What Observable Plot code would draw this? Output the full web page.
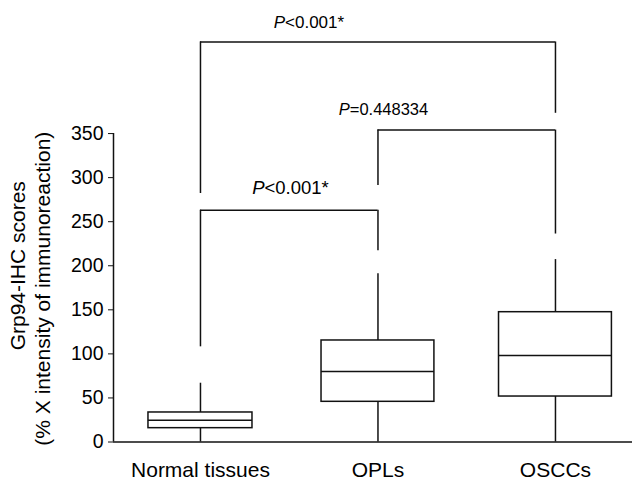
<!DOCTYPE html>
<html>
<head>
<meta charset="utf-8">
<script src="https://cdn.jsdelivr.net/npm/d3@7"></script>
<script src="https://cdn.jsdelivr.net/npm/@observablehq/plot@0.6"></script>
<style>
  html, body { margin: 0; padding: 0; background: #fff; }
  #chart svg { display: block; font-family: "Liberation Sans", Arial, Helvetica, sans-serif; }
</style>
</head>
<body>
<div id="chart"></div>
<script>
// ---- Data ----
const categories   = ["Normal tissues", "OPLs", "OSCCs"];
const whiskerLow   = [0, 0, 0];
const q1           = [15.7, 45.6, 51.6];
const medians      = [24.7, 80, 98.2];
const q3           = [33.5, 115.2, 147.3];
const whiskerHigh  = [66.7, 191, 207];
const yTicks       = [0, 50, 100, 150, 200, 250, 300, 350];

// significance brackets (group indices, heights in score units)
const bracketFrom     = [0, 1, 0];
const bracketTo       = [1, 2, 2];
const bracketTop      = [263, 354, 454];
const bracketLeftEnd  = [108, 291, 282];
const bracketRightEnd = [217, 236, 373];
const bracketLabels   = ["P<0.001*", "P=0.448334", "P<0.001*"];

const yLabelLines = ["Grp94-IHC scores", "(% X intensity of immunoreaction)"];

// ---- Build tables ----
const boxes = categories.map((c, i) => ({
  i, c, lo: whiskerLow[i], q1: q1[i], med: medians[i], q3: q3[i], hi: whiskerHigh[i],
  hw: i === 0 ? 0.293 : 0.318
}));
const brackets = bracketLabels.map((l, k) => ({
  from: bracketFrom[k], to: bracketTo[k], top: bracketTop[k],
  leftEnd: bracketLeftEnd[k], rightEnd: bracketRightEnd[k], label: l
}));
// label placement (annotation positions)
const labelPos = [
  {x: 0.507, y: 281.6, size: 18.5},
  {x: 1.031, y: 371.2, size: 16.5},
  {x: 0.611, y: 470.3, size: 17}
];
const labels = brackets.map((b, k) => ({...b, ...labelPos[k]}));

const ink = "#111";
const sw = 1.5;

const chart = Plot.plot({
  width: 634,
  height: 482,
  marginLeft: 113,
  marginRight: 2,
  marginTop: 0,
  marginBottom: 40.5,
  x: {domain: [-0.49, 2.434], axis: null},
  y: {domain: [0, 501], axis: null},
  marks: [
    // axes
    Plot.axisY({ticks: yTicks, tickSize: 5, tickPadding: 5, fontSize: 19.5, label: null, stroke: ink, color: "#000", x: -0.49}),
    Plot.axisX({ticks: [0, 1, 2], tickFormat: i => categories[i], tickSize: 0, tickPadding: 20, fontSize: 21, label: null, color: "#000"}),
    Plot.ruleX([0], {x: () => -0.49, y1: 0, y2: 350, stroke: ink, strokeWidth: sw}),
    Plot.ruleY([0], {y: 0, x1: -0.49, x2: 2.434, stroke: ink, strokeWidth: sw}),
    // whiskers
    Plot.ruleX(boxes, {x: "i", y1: "lo", y2: "q1", stroke: ink, strokeWidth: sw}),
    Plot.ruleX(boxes, {x: "i", y1: "q3", y2: "hi", stroke: ink, strokeWidth: sw}),
    // boxes
    Plot.rect(boxes, {x1: d => d.i - d.hw, x2: d => d.i + d.hw, y1: "q1", y2: "q3", fill: "white", stroke: ink, strokeWidth: sw}),
    Plot.ruleY(boxes, {y: "med", x1: d => d.i - d.hw, x2: d => d.i + d.hw, stroke: ink, strokeWidth: sw}),
    // brackets
    Plot.ruleY(brackets, {y: "top", x1: "from", x2: "to", stroke: ink, strokeWidth: sw}),
    Plot.ruleX(brackets, {x: "from", y1: "leftEnd", y2: "top", stroke: ink, strokeWidth: sw}),
    Plot.ruleX(brackets, {x: "to", y1: "rightEnd", y2: "top", stroke: ink, strokeWidth: sw}),
    // p-value labels
    ...labels.map(l => Plot.text([l], {x: "x", y: "y", text: "label", fontSize: l.size, lineAnchor: "bottom", textAnchor: "middle", fill: "#000", className: "pval"})),
    // y axis title (two lines)
    Plot.text([yLabelLines[0]], {x: () => -1.025, y: () => 200, text: d => d, rotate: -90, fontSize: 21, textAnchor: "middle", lineAnchor: "middle", fill: "#000"}),
    Plot.text([yLabelLines[1]], {x: () => -0.885, y: () => 174, text: d => d, rotate: -90, fontSize: 21, textAnchor: "middle", lineAnchor: "middle", fill: "#000"})
  ]
});

// italicize the leading "P" in p-value labels
chart.querySelectorAll("g.pval text").forEach(t => {
  const s = t.textContent;
  if (s && s[0] === "P") {
    t.textContent = "";
    const ns = "http://www.w3.org/2000/svg";
    const a = document.createElementNS(ns, "tspan");
    a.setAttribute("font-style", "italic");
    a.textContent = "P";
    const b = document.createElementNS(ns, "tspan");
    b.textContent = s.slice(1);
    t.appendChild(a); t.appendChild(b);
  }
});

document.getElementById("chart").appendChild(chart);
</script>
</body>
</html>
